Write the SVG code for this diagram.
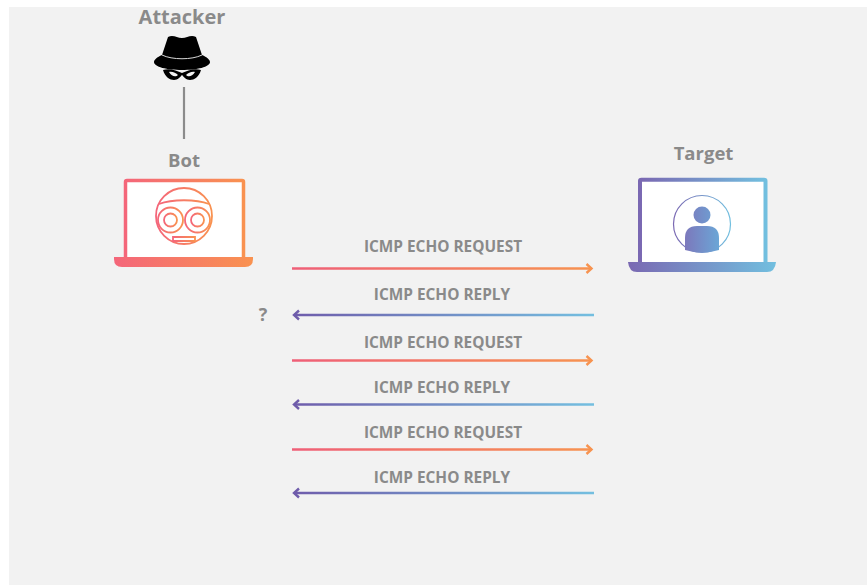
<svg xmlns="http://www.w3.org/2000/svg" width="867" height="585" viewBox="0 0 867 585">
<style>
text{font-family:"Open Sans","Liberation Sans",sans-serif;font-weight:700;fill:#8a8a8a;text-anchor:middle}
.t{font-size:18.500px}
.a{font-size:20px}
.l{font-size:15.400px}
.wh{fill:#fff}
.req{fill:none;stroke:url(#reqL);stroke-width:2.500}
.rep{fill:none;stroke:url(#repL);stroke-width:2.500}
.per{fill:url(#person)}
</style>
<defs>
<linearGradient id="warm" x1="0" y1="0" x2="1" y2="0"><stop offset="0" stop-color="#f4667a"/><stop offset="1" stop-color="#f99250"/></linearGradient>
<linearGradient id="cool" x1="0" y1="0" x2="1" y2="0"><stop offset="0" stop-color="#7a68b2"/><stop offset="1" stop-color="#72bfdf"/></linearGradient>
<linearGradient id="person" gradientUnits="userSpaceOnUse" x1="685" y1="0" x2="719" y2="0"><stop offset="0" stop-color="#7c78bc"/><stop offset="1" stop-color="#6ba6d6"/></linearGradient>
<linearGradient id="reqL" gradientUnits="userSpaceOnUse" x1="292" y1="0" x2="592" y2="0"><stop offset="0" stop-color="#ef5f78"/><stop offset="1" stop-color="#f79350"/></linearGradient>
<linearGradient id="repL" gradientUnits="userSpaceOnUse" x1="292" y1="0" x2="594" y2="0"><stop offset="0" stop-color="#6f5cab"/><stop offset="1" stop-color="#74bfe0"/></linearGradient>
<marker id="ar" markerUnits="userSpaceOnUse" markerWidth="12" markerHeight="14" refX="10" refY="7" orient="auto"><path d="M5 2.500L10 7L5 11.500" fill="none" stroke="#f79350" stroke-width="2.400"/></marker>
<marker id="al" markerUnits="userSpaceOnUse" markerWidth="12" markerHeight="14" refX="10" refY="7" orient="auto"><path d="M5 2.500L10 7L5 11.500" fill="none" stroke="#6f5cab" stroke-width="2.400"/></marker>
</defs>
<rect width="867" height="585" fill="#fff"/>
<rect x="9" y="7" width="858" height="578" fill="#f2f2f2"/>

<g id="attacker">
<text class="a" x="182" y="24">Attacker</text>
<path d="M168 37C173 34 177 38 182 38C187 38 191 34 196 37L202 55C207 57 210 60 210 62C210 67 197 70 182 70C167 70 154 67 154 62C154 60 157 57 162 55Z" fill="#000"/>
<path d="M162 55C172 60 192 60 202 55" fill="none" stroke="#d8d8d8" stroke-width="1"/>
<path d="M163 70C170 68 177 71 182 73C187 71 194 68 201 70C199 77 194 80 190 80C186 80 184 77 182 75C180 77 178 80 174 80C170 80 165 77 163 70Z" fill="#000"/>
<path d="M169 72C172 71 176 73 178 75C176 77 172 77 169 72ZM195 72C192 71 188 73 186 75C188 77 192 77 195 72Z" fill="#f2f2f2"/>
</g>

<g id="bot">
<text class="t" x="184" y="167">Bot</text>
<path d="M125.500 258V182Q125.500 180.500 127 180.500H242Q243.500 180.500 243.500 182V258" class="wh" stroke="url(#warm)" stroke-width="3.500"/>
<path d="M114 257H253V259Q253 267 245 267H122Q114 267 114 259Z" fill="url(#warm)"/>
<g fill="none" stroke="url(#warm)" stroke-width="1.800">
<circle cx="184" cy="216" r="28"/>
<path d="M159 204C172 199 196 199 209 204"/>
<circle cx="170.500" cy="220" r="12.500"/><circle cx="170.500" cy="220" r="6.500"/>
<circle cx="197.500" cy="220" r="12.500"/><circle cx="197.500" cy="220" r="6.500"/>
<path d="M173 237H195V241H173Z"/>
</g>
</g>

<g id="target">
<text class="t" x="703.500" y="160">Target</text>
<path d="M640 264V181Q640 179.800 641.500 179.800H764Q765.500 179.800 765.500 181V264" class="wh" stroke="url(#cool)" stroke-width="4"/>
<path d="M628 262H776Q775 272 767 272H637Q629 272 628 262Z" fill="url(#cool)"/>
<circle cx="702" cy="224" r="28.500" fill="#fff" stroke="url(#cool)" stroke-width="1.200"/>
<circle class="per" cx="702" cy="215" r="8.500"/>
<path class="per" d="M685 250V238Q685 226 697 226H707Q719 226 719 238V250Q710 252.500 702 252.500Q694 252.500 685 250Z"/>
</g>

<g id="connectors">
<line x1="184" y1="87" x2="184" y2="139" stroke="#8c8c8c" stroke-width="2.200"/>
<path class="req" d="M292 268.500H591.500" marker-end="url(#ar)"/>
<path class="rep" d="M594 315H294" marker-end="url(#al)"/>
<path class="req" d="M292 360.500H591.500" marker-end="url(#ar)"/>
<path class="rep" d="M594 404.500H294" marker-end="url(#al)"/>
<path class="req" d="M292 449.500H591.500" marker-end="url(#ar)"/>
<path class="rep" d="M594 493H294" marker-end="url(#al)"/>
</g>

<g id="labels">
<text class="l" x="443" y="251.500">ICMP ECHO REQUEST</text>
<text class="l" x="442" y="299.500">ICMP ECHO REPLY</text>
<text x="263" y="321" font-size="18">?</text>
<text class="l" x="443" y="347.500">ICMP ECHO REQUEST</text>
<text class="l" x="442" y="392.500">ICMP ECHO REPLY</text>
<text class="l" x="443" y="437.500">ICMP ECHO REQUEST</text>
<text class="l" x="442" y="482.500">ICMP ECHO REPLY</text>
</g>
</svg>
